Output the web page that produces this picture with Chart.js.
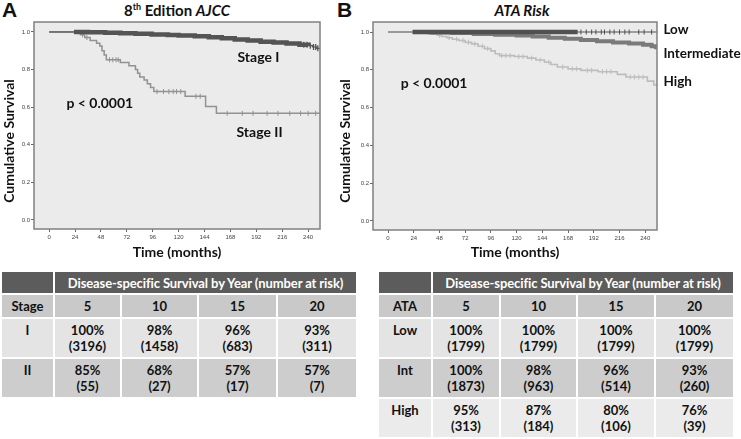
<!DOCTYPE html>
<html lang="en">
<head>
<meta charset="UTF-8" />
<title>Disease-specific survival: AJCC 8th edition vs ATA risk</title>
<script src="https://cdn.jsdelivr.net/npm/chart.js"></script>
<style>
  body { margin: 0; background: #fff; width: 741px; height: 439px; position: relative; overflow: hidden; font-family: Lato, sans-serif; }
  .panel { position: absolute; top: -2px; font: bold 21px "Liberation Sans", Arial, sans-serif; color: #111; }
  .title { position: absolute; top: 1px; font: bold 15px Lato, sans-serif; color: #111; text-align: center; width: 200px; }
  .title sup { font-size: 9px; }
  canvas { position: absolute; top: 0; }
  table { position: absolute; top: 270px; border-collapse: separate; border-spacing: 2px; table-layout: fixed; font: bold 13px Lato, sans-serif; color: #111; }
  td { padding: 0; text-align: center; }
  tr.head td { background: #5c5c5c; color: #fff; height: 21px; font-size: 13px; letter-spacing: -0.1px; }
  tr.years td { background: #c9c9c9; height: 22px; }
  tr.data td { height: 38px; vertical-align: top; padding-top: 4px; box-sizing: border-box; line-height: 15.5px; }
  tr.light td { background: #e4e4e4; }
  tr.mid td { background: #cdcdcd; }
  tr.pale td { background: #ebebeb; }
</style>
</head>
<body>
  <div class="panel" style="left:2px">A</div>
  <div class="panel" style="left:337px">B</div>
  <div class="title" style="left:77px">8<sup>th</sup> Edition <i>AJCC</i></div>
  <div class="title" style="left:422px"><i>ATA Risk</i></div>

  <canvas id="ajccChart" width="336" height="262" style="left:0"></canvas>
  <canvas id="ataChart" width="405" height="262" style="left:336px"></canvas>

  <table id="ajccTable" style="left:0"></table>
  <table id="ataTable" style="left:377px"></table>

<script>
// eixos
const xTicks = [0, 24, 48, 72, 96, 120, 144, 168, 192, 216, 240];
const yTicks = [0.0, 0.2, 0.4, 0.6, 0.8, 1.0];
const followEnd = 251;

// curvas (tempo em meses, sobrevida)
const stageITimes = [0, 23, 36, 52, 66, 80, 95, 110, 120, 135, 148, 160, 172, 184, 196, 208, 220, 232, 240, 244, 248];
const stageISurv  = [1.0, 1.0, 0.998, 0.996, 0.993, 0.99, 0.987, 0.984, 0.981, 0.977, 0.972, 0.966, 0.96, 0.954, 0.948, 0.944, 0.938, 0.932, 0.927, 0.92, 0.913];
const stageICensor = [236, 239, 242, 245, 247, 249];

const stageIITimes = [0, 29, 33, 38, 44, 47, 49, 51, 53, 66, 74, 80, 82, 84, 88, 91, 94, 97, 126, 145, 155];
const stageIISurv  = [1.0, 0.985, 0.97, 0.955, 0.94, 0.925, 0.9, 0.877, 0.852, 0.837, 0.82, 0.8, 0.78, 0.76, 0.745, 0.725, 0.705, 0.683, 0.658, 0.603, 0.567];
const stageIICensor = [31, 35, 56, 59, 62, 64, 100, 106, 111, 115, 118, 122, 136, 140, 165, 179, 189, 202, 212, 223, 233, 240, 247];

const lowTimes = [0, 23, 177];
const lowSurv  = [1.0, 1.0, 1.0];
const lowCensor = [180, 185, 190, 194, 199, 202, 207, 211, 216, 221, 225, 234, 239, 246];

const intTimes = [0, 23, 40, 60, 80, 100, 120, 135, 150, 165, 180, 195, 210, 225, 238, 246, 250];
const intSurv  = [1.0, 1.0, 0.998, 0.995, 0.99, 0.986, 0.981, 0.976, 0.97, 0.964, 0.958, 0.951, 0.945, 0.939, 0.932, 0.925, 0.92];

const highTimes = [0, 30, 36, 42, 46, 50, 55, 60, 66, 72, 78, 84, 90, 96, 100, 104, 118, 130, 138, 146, 152, 158, 168, 180, 196, 214, 222, 242, 248];
const highSurv  = [1.0, 0.997, 0.993, 0.99, 0.983, 0.976, 0.97, 0.962, 0.955, 0.945, 0.937, 0.925, 0.912, 0.9, 0.885, 0.875, 0.87, 0.862, 0.852, 0.84, 0.828, 0.815, 0.805, 0.797, 0.79, 0.776, 0.762, 0.74, 0.72];
const highCensor = [48, 57, 64, 70, 75, 81, 88, 93, 106, 110, 114, 122, 126, 134, 142, 150, 163, 172, 176, 186, 190, 200, 204, 208, 226, 230, 234, 238];

// tabelas
const tableYears = [5, 10, 15, 20];
const stageNames = ["I", "II"];
const stagePct   = [[100, 98, 96, 93], [85, 68, 57, 57]];
const stageRisk  = [[3196, 1458, 683, 311], [55, 27, 17, 7]];
const ataNames = ["Low", "Int", "High"];
const ataPct   = [[100, 100, 100, 100], [100, 98, 96, 93], [95, 87, 80, 76]];
const ataRisk  = [[1799, 1799, 1799, 1799], [1873, 963, 514, 260], [313, 184, 106, 39]];

function curve(times, surv) {
  const pts = times.map((t, i) => ({ x: t, y: surv[i] }));
  pts.push({ x: followEnd, y: surv[surv.length - 1] });
  return pts;
}
function stepAt(times, surv, t) {
  let s = surv[0];
  times.forEach((ti, i) => { if (ti <= t) s = surv[i]; });
  return s;
}
function censor(times, surv, marks) {
  return marks.map(t => ({ x: t, y: stepAt(times, surv, t) }));
}
function bandWidth(from, to, thick) {
  return ctx => (ctx.p0.parsed.x >= from && ctx.p0.parsed.x < to) ? thick : 1.2;
}

const frame = {
  id: 'frame',
  beforeDraw(chart) {
    const a = chart.chartArea, c = chart.ctx;
    c.save();
    c.fillStyle = '#ebebeb';
    c.fillRect(a.left, a.top, a.right - a.left, a.bottom - a.top);
    c.restore();
  },
  afterDraw(chart) {
    const a = chart.chartArea, c = chart.ctx;
    c.save();
    c.strokeStyle = '#808080';
    c.lineWidth = 1.5;
    c.strokeRect(a.left, a.top, a.right - a.left, a.bottom - a.top);
    // textos
    const x = chart.scales.x, y = chart.scales.y;
    c.fillStyle = '#111';
    c.textBaseline = 'middle';
    (chart.options.plugins.kmLabels || []).forEach(l => {
      c.font = `bold ${l.size || 14}px Lato, sans-serif`;
      c.textAlign = l.align || 'center';
      c.fillText(l.text, x.getPixelForValue(l.x), y.getPixelForValue(l.y));
    });
    // titulo do eixo y
    c.font = 'bold 14px Lato, sans-serif';
    c.textAlign = 'center';
    c.translate(9, 141);
    c.rotate(-Math.PI / 2);
    c.fillText('Cumulative Survival', 0, 0);
    c.restore();
  }
};

function kmOptions(yWidth, padRight, xHeight, labels) {
  const tickFont = { family: 'Liberation Sans', size: 6 };
  return {
    responsive: false,
    animation: false,
    layout: { padding: { top: 22, right: padRight, left: 0, bottom: 0 } },
    plugins: { legend: { display: false }, tooltip: { enabled: false }, kmLabels: labels },
    scales: {
      x: {
        type: 'linear', min: -14, max: followEnd,
        afterBuildTicks: s => { s.ticks = xTicks.map(v => ({ value: v })); },
        afterFit: s => { s.height = xHeight; },
        grid: { drawOnChartArea: false, tickLength: 3, color: '#666' },
        border: { display: false },
        ticks: { font: tickFont, color: '#444', padding: 2, maxRotation: 0, autoSkip: false },
        title: { display: true, text: 'Time (months)', font: { family: 'Lato', size: 14, weight: 'bold' }, color: '#111', padding: { top: 0, bottom: 1 } }
      },
      y: {
        type: 'linear', min: -0.048, max: 1.053,
        afterBuildTicks: s => { s.ticks = yTicks.map(v => ({ value: v })); },
        afterFit: s => { s.width = yWidth; },
        grid: { drawOnChartArea: false, tickLength: 3, color: '#666' },
        border: { display: false },
        ticks: { font: tickFont, color: '#444', padding: 1, callback: v => v.toFixed(1) }
      }
    }
  };
}

const tick = { showLine: false, pointStyle: 'line', rotation: 90, pointRadius: 2.5, pointBorderWidth: 1 };

// Painel A - AJCC
new Chart(document.getElementById('ajccChart'), {
  type: 'scatter',
  data: {
    datasets: [
      { data: curve(stageITimes, stageISurv), showLine: true, stepped: true, pointRadius: 0, borderColor: '#545454',
        segment: { borderWidth: bandWidth(23, 236, 4.5) }, order: 0 },
      Object.assign({ data: censor(stageITimes, stageISurv, stageICensor), borderColor: '#545454', order: 0 }, tick, { pointRadius: 3, pointBorderWidth: 1.3 }),
      { data: curve(stageIITimes, stageIISurv), showLine: true, stepped: true, pointRadius: 0, borderColor: '#929292', borderWidth: 1.5, order: 1 },
      Object.assign({ data: censor(stageIITimes, stageIISurv, stageIICensor), borderColor: '#929292', order: 1 }, tick)
    ]
  },
  options: kmOptions(34, 16, 33, [
    { text: 'Stage I', x: 194, y: 0.862 },
    { text: 'Stage II', x: 195, y: 0.463 },
    { text: 'p < 0.0001', x: 47, y: 0.617 }
  ]),
  plugins: [frame]
});

// Painel B - ATA
new Chart(document.getElementById('ataChart'), {
  type: 'scatter',
  data: {
    datasets: [
      { data: curve(lowTimes, lowSurv), showLine: true, stepped: true, pointRadius: 0, borderColor: '#505050',
        segment: { borderWidth: bandWidth(23, 177, 4.5), borderColor: ctx => ctx.p0.parsed.x < 23 ? '#999' : '#505050' }, order: 0 },
      Object.assign({ data: censor(lowTimes, lowSurv, lowCensor), borderColor: '#505050', order: 0 }, tick),
      { data: curve(intTimes, intSurv), showLine: true, stepped: true, pointRadius: 0, borderColor: '#7a7a7a',
        segment: { borderWidth: bandWidth(23, 252, 4) }, order: 1 },
      { data: curve(highTimes, highSurv), showLine: true, stepped: true, pointRadius: 0, borderColor: '#bdbdbd', borderWidth: 1.6, order: 2 },
      Object.assign({ data: censor(highTimes, highSurv, highCensor), borderColor: '#bdbdbd', order: 2 }, tick)
    ]
  },
  options: kmOptions(37, 84, 32, [
    { text: 'p < 0.0001', x: 43, y: 0.729 },
    { text: 'Low', x: 257, y: 1.011, align: 'left', size: 13.5 },
    { text: 'Intermediate', x: 257, y: 0.887, align: 'left', size: 13.5 },
    { text: 'High', x: 257, y: 0.736, align: 'left', size: 13.5 }
  ]),
  plugins: [frame]
});

function buildTable(id, firstHead, widths, names, pct, risk, shades) {
  let html = '<colgroup>' + widths.map(w => `<col style="width:${w}px">`).join('') + '</colgroup>';
  html += `<tr class="head"><td></td><td colspan="4">Disease-specific Survival by Year (number at risk)</td></tr>`;
  html += `<tr class="years"><td>${firstHead}</td>${tableYears.map(y => `<td>${y}</td>`).join('')}</tr>`;
  names.forEach((n, r) => {
    html += `<tr class="data ${shades[r]}"><td>${n}</td>` +
      pct[r].map((p, c) => `<td>${p}%<br>(${risk[r][c]})</td>`).join('') + '</tr>';
  });
  const t = document.getElementById(id);
  t.style.width = (widths.reduce((a, b) => a + b, 0) + 12) + 'px';
  t.innerHTML = html;
}
buildTable('ajccTable', 'Stage', [51, 65, 75, 77, 78], stageNames, stagePct, stageRisk, ['light', 'mid']);
buildTable('ataTable', 'ATA', [52, 66, 75, 76, 77], ataNames, ataPct, ataRisk, ['light', 'mid', 'pale']);
</script>
</body>
</html>
